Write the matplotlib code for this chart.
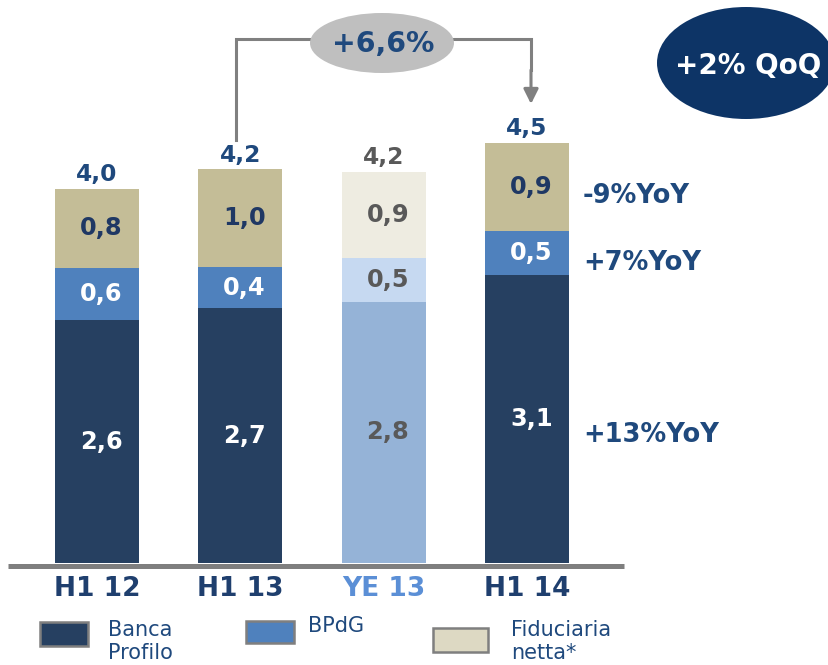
import matplotlib
matplotlib.use("Agg")
import matplotlib.pyplot as plt
from matplotlib.patches import Ellipse, Rectangle

# ---- data ----
categories = ["H1 12", "H1 13", "YE 13", "H1 14"]
banca_profilo = [2.58, 2.71, 2.78, 3.06]
bpdg = [0.56, 0.44, 0.46, 0.47]
fiduciaria = [0.84, 1.04, 0.92, 0.94]
yoy_labels = ["+13%YoY", "+7%YoY", "-9%YoY"]
growth_label = "+6,6%"
qoq_label = "+2% QoQ"
legend_labels = ["Banca\nProfilo", "BPdG", "Fiduciaria\nnetta*"]

W, H = 829, 665
fig = plt.figure(figsize=(W / 100, H / 100), dpi=100)
ax = fig.add_axes([0, 0, 1, 1])
ax.axis("off")

# pixel <-> data mapping (layout only)
X0, DX = 97.0, 143.3
Y0, DY = 563.0, 94.0
def X(px):
    return (px - X0) / DX
def Y(py):
    return (Y0 - py) / DY
ax.set_xlim(X(0), X(W))
ax.set_ylim(Y(H), Y(0))

def fmt(v):
    return f"{v:.1f}".replace(".", ",")

normal_cols = ["#264061", "#4F81BD", "#C4BD97"]
ye_cols = ["#95B3D7", "#C6D9F1", "#EEECE1"]
navy = "#1F497D"
grey_txt = "#595959"

xs = list(range(len(categories)))
bw = 84 / DX
for i, cat in enumerate(categories):
    cols = ye_cols if cat.startswith("YE") else normal_cols
    segs = [banca_profilo[i], bpdg[i], fiduciaria[i]]
    bottom = 0.0
    for k, v in enumerate(segs):
        ax.bar(xs[i], v, bw, bottom=bottom, color=cols[k], edgecolor="none", zorder=2)
        if cat.startswith("YE"):
            tc = grey_txt
        else:
            tc = "white" if k < 2 else "#1F3864"
        ax.text(xs[i] + 0.03, bottom + v / 2, fmt(v), ha="center", va="center",
                fontsize=17.3, fontweight="bold", color=tc, zorder=3)
        bottom += v
    tot = sum(segs)
    ax.text(xs[i], tot + 0.08, fmt(tot), ha="center", va="baseline",
            fontsize=16.8, fontweight="bold",
            color=grey_txt if cat.startswith("YE") else navy, zorder=3)
    ax.text(xs[i], Y(589), cat, ha="center", va="center", fontsize=19,
            fontweight="bold", color="#5B8FD6" if cat.startswith("YE") else "#1F3F6E")

# baseline
ax.plot([X(8), X(624)], [Y(566), Y(566)], color="#7F7F7F", lw=3.6,
        solid_capstyle="butt", zorder=4)

# YoY labels next to last bar
last = len(categories) - 1
b = banca_profilo[last]
p = bpdg[last]
f = fiduciaria[last]
yoy_y = [b / 2 - 0.17, b + p / 2 - 0.1, b + p + f / 2 - 0.1]
for lab, yy in zip(yoy_labels, yoy_y):
    ax.text(X(583), yy, lab, ha="left", va="center", fontsize=18.5,
            fontweight="bold", color=navy)

# bracket with arrow
gcol = "#808080"
ax.plot([X(236), X(236), X(531), X(531)], [Y(140), Y(39), Y(39), Y(70)],
        color=gcol, lw=2.2, zorder=1, solid_joinstyle="miter")
ax.annotate("", xy=(X(531), Y(104)), xytext=(X(531), Y(70)),
            arrowprops=dict(arrowstyle="-|>", color=gcol, lw=2.2,
                            mutation_scale=22, shrinkA=0, shrinkB=0))
ax.add_patch(Ellipse((X(382), Y(43)), 144 / DX, 60 / DY, facecolor="#BFBFBF",
                     edgecolor="none", zorder=5))
ax.text(X(383), Y(44), growth_label, ha="center", va="center", fontsize=20.4,
        fontweight="bold", color=navy, zorder=6)

# QoQ ellipse
ax.add_patch(Ellipse((X(746), Y(63)), 178 / DX, 112 / DY, facecolor="#0D3466",
                     edgecolor="none", zorder=5, clip_on=False))
ax.text(X(748), Y(66), qoq_label, ha="center", va="center", fontsize=20,
        fontweight="bold", color="white", zorder=6)

# legend (manual)
leg = [((40, 622, 48, 24), (108, 632), normal_cols[0]),
       ((246, 621, 48, 22), (308, 628), normal_cols[1]),
       ((433, 628, 55, 24), (511, 632), "#DDD9C3")]
for lab, ((lx, ly, lw_, lh), (tx, ty), col) in zip(legend_labels, leg):
    ax.add_patch(Rectangle((X(lx), Y(ly + lh)), lw_ / DX, lh / DY, facecolor=col,
                           edgecolor="#7F7F7F", lw=1.8, clip_on=False))
    ax.text(X(tx), Y(ty - 12), lab, ha="left", va="top", fontsize=15,
            color=navy, linespacing=1.2)

fig.savefig("out.png", dpi=100)
